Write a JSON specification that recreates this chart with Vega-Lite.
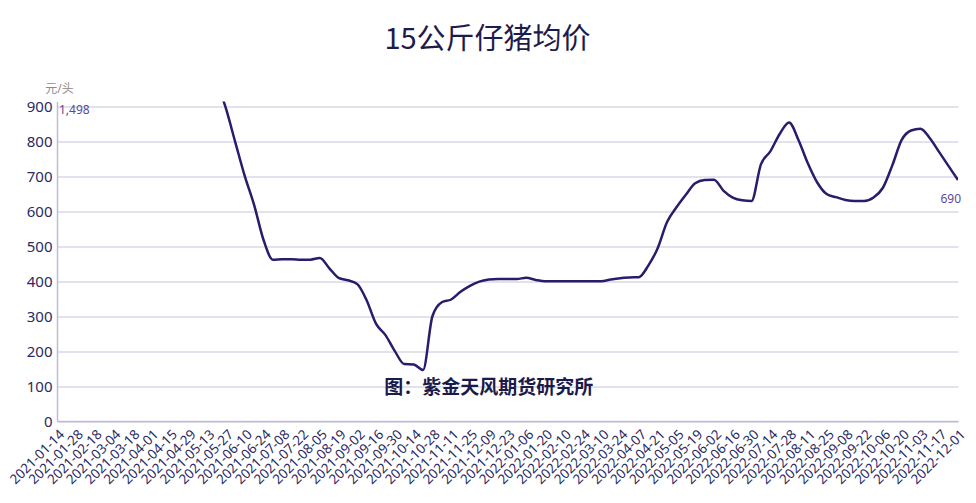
{
  "$schema": "https://vega.github.io/schema/vega-lite/v6.json",
  "width": 901,
  "height": 319.5,
  "autosize": {"type": "none"},
  "padding": {"left": 57, "top": 101.5, "right": 18, "bottom": 82},
  "background": "white",
  "title": {"text": "15公斤仔猪均价", "fontSize": 29, "font": "Noto Sans CJK SC", "fontWeight": "normal", "color": "#1e1b4b", "anchor": "middle", "dx": -20, "offset": 28},
  "config": {
    "view": {"stroke": null},
    "font": "Noto Sans, Noto Sans CJK SC",
    "axisX": {"labelAngle": -45, "labelFontSize": 13.5, "labelColor": "#2b2a63", "labelOverlap": false, "labelPadding": 6, "ticks": false, "grid": false, "domainColor": "#bfbcd3", "domainWidth": 1.5},
    "axisY": {"labelFontSize": 15, "labelColor": "#2b2a63", "labelPadding": 5, "labelOverlap": false, "ticks": false, "grid": true, "gridColor": "#c8c5da", "gridWidth": 1.2, "domainColor": "#bfbcd3", "domainWidth": 1.5, "titleAngle": 0, "titleFontSize": 12, "titleFontWeight": "normal", "titleColor": "#8c8c8c", "titleX": 2, "titleY": -13, "titleAlign": "center", "titleBaseline": "middle"}
  },
  "data": {"values": [
    {"date": "2021-01-14", "price": 1498},
    {"date": "2021-01-21", "price": 1520},
    {"date": "2021-01-28", "price": 1560},
    {"date": "2021-02-04", "price": 1600},
    {"date": "2021-02-18", "price": 1620},
    {"date": "2021-02-25", "price": 1640},
    {"date": "2021-03-04", "price": 1650},
    {"date": "2021-03-11", "price": 1640},
    {"date": "2021-03-18", "price": 1620},
    {"date": "2021-03-25", "price": 1580},
    {"date": "2021-04-01", "price": 1520},
    {"date": "2021-04-08", "price": 1460},
    {"date": "2021-04-15", "price": 1400},
    {"date": "2021-04-22", "price": 1320},
    {"date": "2021-04-29", "price": 1240},
    {"date": "2021-05-06", "price": 1150},
    {"date": "2021-05-13", "price": 1060},
    {"date": "2021-05-20", "price": 975},
    {"date": "2021-05-27", "price": 895},
    {"date": "2021-06-03", "price": 798},
    {"date": "2021-06-10", "price": 702},
    {"date": "2021-06-17", "price": 619},
    {"date": "2021-06-24", "price": 519},
    {"date": "2021-07-01", "price": 462},
    {"date": "2021-07-08", "price": 463},
    {"date": "2021-07-15", "price": 463},
    {"date": "2021-07-22", "price": 462},
    {"date": "2021-07-29", "price": 462},
    {"date": "2021-08-05", "price": 467},
    {"date": "2021-08-12", "price": 438},
    {"date": "2021-08-19", "price": 410},
    {"date": "2021-08-26", "price": 403},
    {"date": "2021-09-02", "price": 392},
    {"date": "2021-09-09", "price": 345},
    {"date": "2021-09-16", "price": 278},
    {"date": "2021-09-23", "price": 246},
    {"date": "2021-09-30", "price": 200},
    {"date": "2021-10-07", "price": 163},
    {"date": "2021-10-14", "price": 162},
    {"date": "2021-10-21", "price": 146},
    {"date": "2021-10-28", "price": 300},
    {"date": "2021-11-04", "price": 340},
    {"date": "2021-11-11", "price": 348},
    {"date": "2021-11-18", "price": 370},
    {"date": "2021-11-25", "price": 387},
    {"date": "2021-12-02", "price": 399},
    {"date": "2021-12-09", "price": 405},
    {"date": "2021-12-16", "price": 407},
    {"date": "2021-12-23", "price": 407},
    {"date": "2021-12-30", "price": 407},
    {"date": "2022-01-06", "price": 410},
    {"date": "2022-01-13", "price": 404},
    {"date": "2022-01-20", "price": 400},
    {"date": "2022-01-27", "price": 400},
    {"date": "2022-02-10", "price": 400},
    {"date": "2022-02-17", "price": 400},
    {"date": "2022-02-24", "price": 400},
    {"date": "2022-03-03", "price": 400},
    {"date": "2022-03-10", "price": 400},
    {"date": "2022-03-17", "price": 405},
    {"date": "2022-03-24", "price": 409},
    {"date": "2022-03-31", "price": 411},
    {"date": "2022-04-07", "price": 412},
    {"date": "2022-04-14", "price": 445},
    {"date": "2022-04-21", "price": 495},
    {"date": "2022-04-28", "price": 570},
    {"date": "2022-05-05", "price": 612},
    {"date": "2022-05-12", "price": 648},
    {"date": "2022-05-19", "price": 681},
    {"date": "2022-05-26", "price": 690},
    {"date": "2022-06-02", "price": 691},
    {"date": "2022-06-09", "price": 660},
    {"date": "2022-06-16", "price": 640},
    {"date": "2022-06-23", "price": 632},
    {"date": "2022-06-30", "price": 630},
    {"date": "2022-07-07", "price": 735},
    {"date": "2022-07-14", "price": 772},
    {"date": "2022-07-21", "price": 822},
    {"date": "2022-07-28", "price": 855},
    {"date": "2022-08-04", "price": 805},
    {"date": "2022-08-11", "price": 738},
    {"date": "2022-08-18", "price": 683},
    {"date": "2022-08-25", "price": 650},
    {"date": "2022-09-01", "price": 641},
    {"date": "2022-09-08", "price": 633},
    {"date": "2022-09-15", "price": 630},
    {"date": "2022-09-22", "price": 630},
    {"date": "2022-09-29", "price": 640},
    {"date": "2022-10-06", "price": 668},
    {"date": "2022-10-13", "price": 732},
    {"date": "2022-10-20", "price": 805},
    {"date": "2022-10-27", "price": 832},
    {"date": "2022-11-03", "price": 837},
    {"date": "2022-11-10", "price": 810},
    {"date": "2022-11-17", "price": 770},
    {"date": "2022-11-24", "price": 730},
    {"date": "2022-12-01", "price": 690}
  ]},
  "encoding": {
    "x": {
      "field": "date", "type": "ordinal", "sort": null,
      "scale": {"type": "point", "padding": 0},
      "axis": {
        "title": null,
        "values": ["2021-01-14","2021-01-28","2021-02-18","2021-03-04","2021-03-18","2021-04-01","2021-04-15","2021-04-29","2021-05-13","2021-05-27","2021-06-10","2021-06-24","2021-07-08","2021-07-22","2021-08-05","2021-08-19","2021-09-02","2021-09-16","2021-09-30","2021-10-14","2021-10-28","2021-11-11","2021-11-25","2021-12-09","2021-12-23","2022-01-06","2022-01-20","2022-02-10","2022-02-24","2022-03-10","2022-03-24","2022-04-07","2022-04-21","2022-05-05","2022-05-19","2022-06-02","2022-06-16","2022-06-30","2022-07-14","2022-07-28","2022-08-11","2022-08-25","2022-09-08","2022-09-22","2022-10-06","2022-10-20","2022-11-03","2022-11-17","2022-12-01"]
      }
    },
    "y": {
      "field": "price", "type": "quantitative",
      "scale": {"domain": [0, 915], "nice": false, "zero": true},
      "axis": {"title": "元/头", "values": [0, 100, 200, 300, 400, 500, 600, 700, 800, 900]}
    }
  },
  "layer": [
    {
      "mark": {"type": "line", "interpolate": "monotone", "color": "#2a1b6b", "strokeWidth": 2.5, "clip": true}
    },
    {
      "transform": [{"filter": "datum.date == '2021-01-14'"}],
      "mark": {"type": "text", "align": "left", "baseline": "middle", "dx": 2, "dy": 3, "fontSize": 12, "color": "#5b4a9a"},
      "encoding": {
        "y": {"datum": 900, "type": "quantitative", "axis": {"title": "元/头", "values": [0, 100, 200, 300, 400, 500, 600, 700, 800, 900]}},
        "text": {"field": "price", "type": "quantitative", "format": ","}
      }
    },
    {
      "transform": [{"filter": "datum.date == '2022-12-01'"}],
      "mark": {"type": "text", "align": "right", "baseline": "middle", "dx": 3, "dy": 19, "fontSize": 12, "color": "#5b4a9a"},
      "encoding": {
        "text": {"field": "price", "type": "quantitative", "format": ","}
      }
    },
    {
      "transform": [{"filter": "datum.date == '2021-12-09'"}],
      "mark": {"type": "text", "align": "center", "baseline": "middle", "fontSize": 19, "fontWeight": "bold", "color": "#1c1a4a", "font": "Noto Sans CJK SC"},
      "encoding": {
        "y": {"datum": 95, "type": "quantitative", "axis": {"title": "元/头", "values": [0, 100, 200, 300, 400, 500, 600, 700, 800, 900]}},
        "text": {"value": "图：紫金天风期货研究所"}
      }
    }
  ]
}
